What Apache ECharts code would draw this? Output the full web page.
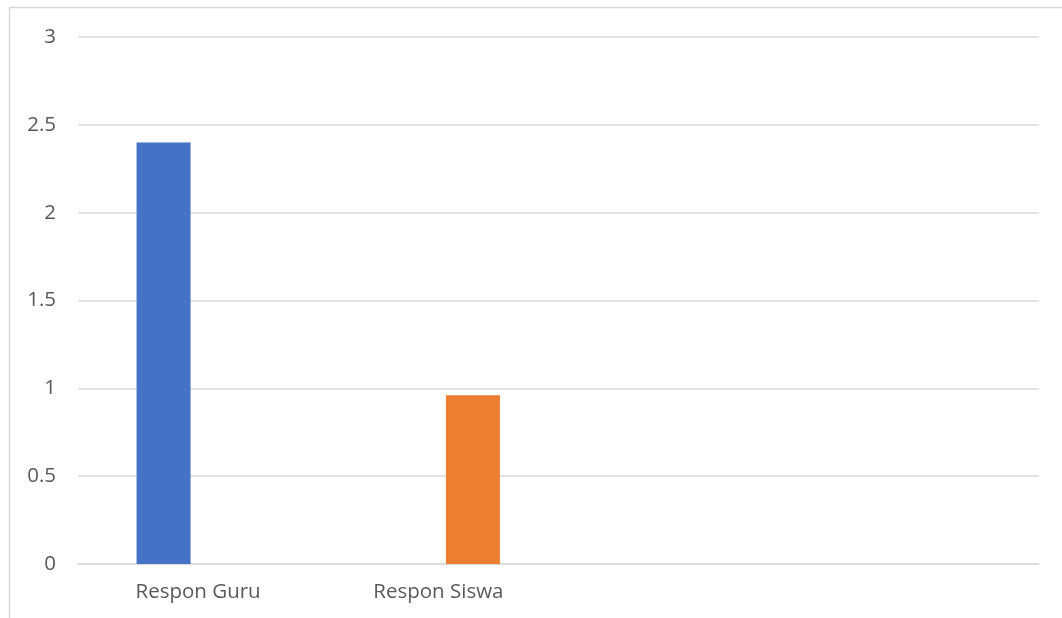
<!DOCTYPE html>
<html>
<head>
<meta charset="utf-8">
<script src="https://cdn.jsdelivr.net/npm/echarts@6/dist/echarts.min.js"></script>
<style>html,body{margin:0;padding:0;background:#fff}#c{width:1062px;height:618px}</style>
</head>
<body>
<div id="c"></div>
<script>
const categories = ["Respon Guru", "Respon Siswa", "", ""];
const seriesGuru = [2.4, null, null, null];
const seriesSiswa = [null, 0.96, null, null];
const yTicks = { min: 0, max: 3, interval: 0.5 };

const chart = echarts.init(document.getElementById('c'), null, { renderer: 'canvas' });
const font = '"Open Sans", "Noto Sans", sans-serif';
chart.setOption({
  animation: false,
  backgroundColor: '#ffffff',
  graphic: [{
    type: 'rect', silent: true, z: -10,
    shape: { x: 9.5, y: 7.5, width: 1200, height: 800 },
    style: { fill: 'none', stroke: '#d9d9d9', lineWidth: 1.5 }
  }],
  grid: { left: 78, right: 23, top: 37, bottom: 54, containLabel: false },
  xAxis: {
    type: 'category',
    data: categories,
    axisLine: { show: true, lineStyle: { color: '#d9d9d9', width: 1.5 } },
    axisTick: { show: false },
    axisLabel: { color: '#595959', fontSize: 20.5, fontFamily: font, margin: 18, interval: 0 },
    splitLine: { show: false }
  },
  yAxis: {
    type: 'value',
    min: yTicks.min, max: yTicks.max, interval: yTicks.interval,
    axisLine: { show: false },
    axisTick: { show: false },
    axisLabel: { color: '#595959', fontSize: 20.5, fontFamily: font, margin: 22 },
    splitLine: { lineStyle: { color: '#d9d9d9', width: 1.5 } }
  },
  series: [
    { name: 'Respon Guru', type: 'bar', data: seriesGuru, barWidth: 54, barGap: '28%', itemStyle: { color: '#4472c4' } },
    { name: 'Respon Siswa', type: 'bar', data: seriesSiswa, barWidth: 54, barGap: '28%', itemStyle: { color: '#ed7d31' } }
  ]
});
</script>
</body>
</html>
